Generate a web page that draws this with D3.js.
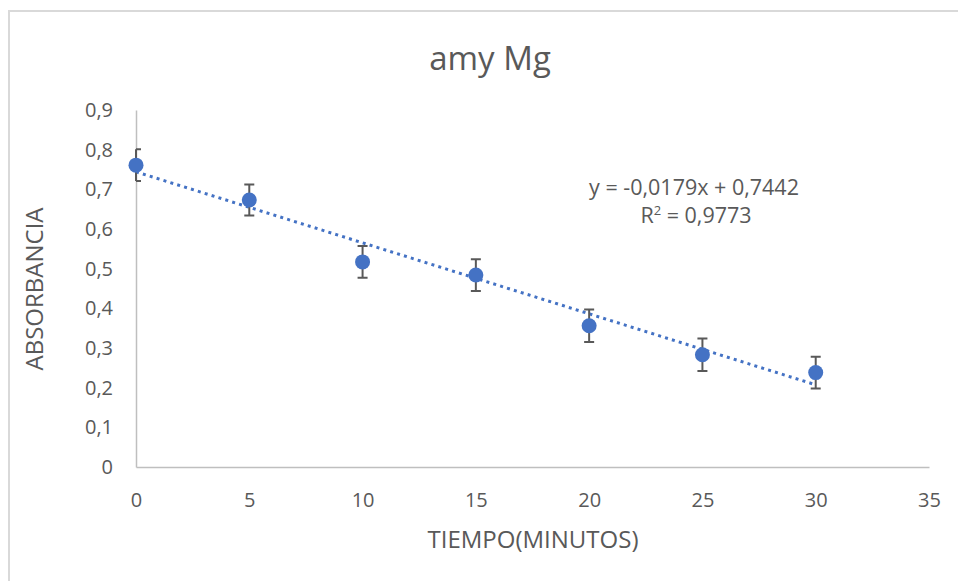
<!DOCTYPE html>
<html>
<head>
<meta charset="utf-8">
<script src="https://cdn.jsdelivr.net/npm/d3@7"></script>
<style>
	body { margin: 0; background: #fff; }
	svg { display: block; }
	text { font-family: "Open Sans", sans-serif; fill: #595959; }
</style>
</head>
<body>
<script>
// data
const minutes = [0, 5, 10, 15, 20, 25, 30]
const absorbance = [0.761, 0.673, 0.517, 0.484, 0.356, 0.283, 0.238]
const errors = [0.04, 0.039, 0.04, 0.04, 0.041, 0.041, 0.04]
const xTicks = [0, 5, 10, 15, 20, 25, 30, 35]
const yTicks = [0, 0.1, 0.2, 0.3, 0.4, 0.5, 0.6, 0.7, 0.8, 0.9]
const trend = { slope: -0.0179, intercept: 0.7442, r2: 0.9773 }

const W = 958, H = 581
const svg = d3.select('body').append('svg').attr('width', W).attr('height', H)

// chart area frame (only left and top edges show)
svg.append('rect')
	.attr('x', 9).attr('y', 11)
	.attr('width', W + 20).attr('height', H + 20)
	.attr('fill', '#fff').attr('stroke', '#d9d9d9').attr('stroke-width', 2)

const x = d3.scaleLinear().domain([0, 35]).range([136, 929])
const y = d3.scaleLinear().domain([0, 0.9]).range([467, 110])
const comma = v => String(v).replace('.', ',')

const g = svg.append('g')

// axes
g.append('g')
	.attr('transform', `translate(0,${y(0)})`)
	.call(d3.axisBottom(x).tickValues(xTicks).tickSize(0).tickPadding(26).tickFormat(d3.format('d')))
	.call(a => a.select('.domain').attr('stroke', '#bfbfbf').attr('stroke-width', 1.5))
	.call(a => a.selectAll('text').attr('font-size', 20).attr('fill', '#595959').attr('font-family', null))

g.append('g')
	.attr('transform', `translate(${x(0)},0)`)
	.call(d3.axisLeft(y).tickValues(yTicks).tickSize(0).tickPadding(23).tickFormat(v => v === 0 ? '0' : comma(+v.toFixed(1))))
	.call(a => a.select('.domain').attr('stroke', '#bfbfbf').attr('stroke-width', 1.5))
	.call(a => a.selectAll('text').attr('font-size', 20).attr('fill', '#595959').attr('font-family', null))

// trendline
const trendX = [0, 30]
g.append('path')
	.datum(trendX)
	.attr('d', d3.line().x(d => x(d)).y(d => y(trend.slope * d + trend.intercept)))
	.attr('fill', 'none')
	.attr('stroke', '#4472c4')
	.attr('stroke-width', 3)
	.attr('stroke-dasharray', '3 4.2')

// error bars
const pts = minutes.map((m, i) => ({ m, v: absorbance[i], e: errors[i] }))
const eb = g.append('g').attr('stroke', '#595959').attr('stroke-width', 2).attr('fill', 'none')
pts.forEach(p => {
	const cx = x(p.m)
	eb.append('path').attr('d', `M${cx},${y(p.v + p.e)}V${y(p.v - p.e)}`)
	const x0 = p.m === 0 ? cx : cx - 5
	eb.append('path').attr('d', `M${x0},${y(p.v + p.e)}H${cx + 5}M${x0},${y(p.v - p.e)}H${cx + 5}`)
})

// markers
g.append('g').selectAll('circle')
	.data(pts)
	.join('circle')
	.attr('cx', d => x(d.m))
	.attr('cy', d => y(d.v))
	.attr('r', 7.5)
	.attr('fill', '#4472c4')

// title + labels
svg.append('text').attr('x', 490).attr('y', 70).attr('text-anchor', 'middle')
	.attr('font-size', 33).text('amy Mg')
svg.append('text').attr('x', 533).attr('y', 548).attr('text-anchor', 'middle')
	.attr('font-size', 24).text('TIEMPO(MINUTOS)')
svg.append('text').attr('transform', 'translate(43,289) rotate(-90)').attr('text-anchor', 'middle')
	.attr('font-size', 24).text('ABSORBANCIA')

// equation
const eq = svg.append('g').attr('text-anchor', 'middle').attr('font-size', 21.5)
eq.append('text').attr('x', 694).attr('y', 195)
	.text(`y = ${comma(trend.slope)}x + ${comma(trend.intercept)}`)
const r2 = eq.append('text').attr('x', 696).attr('y', 223)
r2.append('tspan').text('R')
r2.append('tspan').attr('font-size', 13).attr('dy', -8).text('2')
r2.append('tspan').attr('dy', 8).text(` = ${comma(trend.r2)}`)
</script>
</body>
</html>
